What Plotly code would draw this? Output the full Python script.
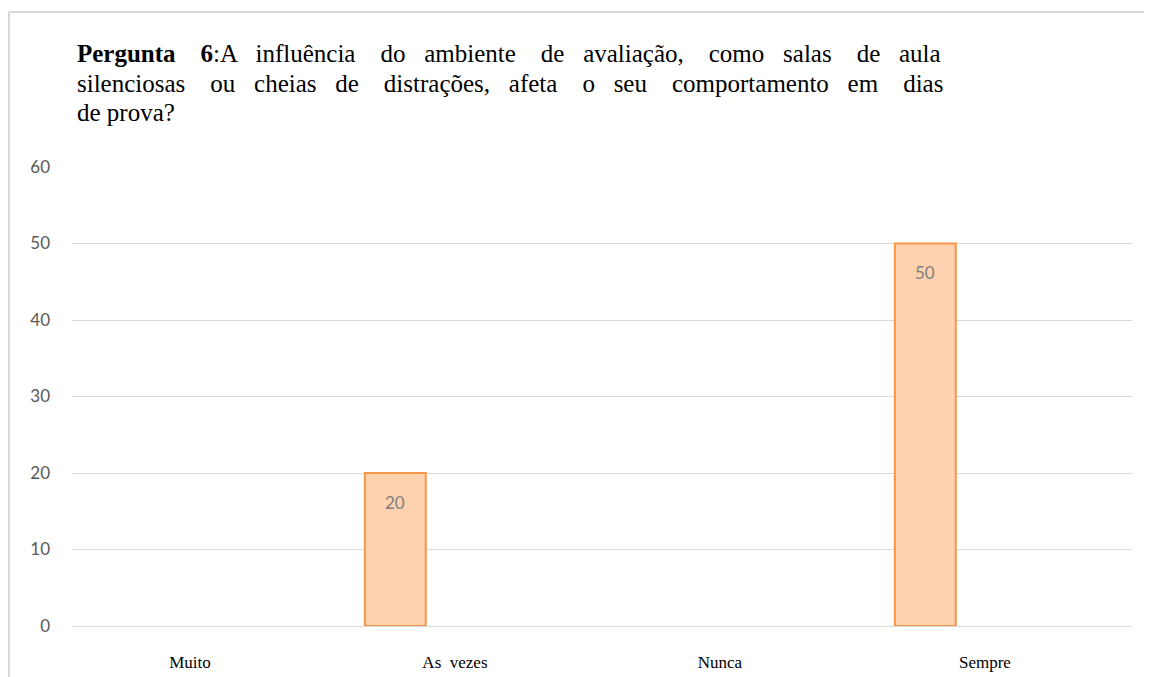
import plotly.graph_objects as go

# Data
categories = ["Muito", "As  vezes", "Nunca", "Sempre"]
values = [None, 20, None, 50]
y_ticks = [0, 10, 20, 30, 40, 50, 60]

title_lines = [
    "<b>Pergunta 6</b>:A influência do ambiente de avaliação, como salas de aula",
    "silenciosas ou cheias de distrações, afeta o seu comportamento em dias",
    "de prova?",
]
# extra non-breaking spaces per word gap, to imitate the justified paragraph
title_extra = [[3, 2, 3, 2, 3, 2, 3, 2, 3, 2, 2], [3, 2, 2, 3, 2, 3, 2, 3, 2, 3], []]

SERIF = "Liberation Serif"
SANS = "Lato"

BAR_WIDTH = 0.23
BAR_OFFSET = -0.34


def justify(line, extra):
    words = line.split(" ")
    out = words[0]
    for i, w in enumerate(words[1:]):
        n = extra[i] if i < len(extra) else 0
        out += " " + "\u00a0" * n + w
    return out


fig = go.Figure()

# Bars (Excel style: light orange fill, darker orange outline)
fig.add_trace(go.Bar(
    x=categories,
    y=values,
    marker=dict(color="#FED2AE", line=dict(color="#F79646", width=2)),
    width=BAR_WIDTH,
    offset=BAR_OFFSET,
    hoverinfo="x+y",
))

# the browser page adds an 8px body margin, so the figure is 8px smaller
fig.update_layout(
    width=1144,
    height=669,
    margin=dict(l=64, r=20, t=159, b=51),
    paper_bgcolor="white",
    plot_bgcolor="white",
    showlegend=False,
    font=dict(family=SERIF, color="black"),
    xaxis=dict(
        type="category",
        range=[-0.445, 3.555],
        showgrid=False,
        showline=False,
        ticks="",
        tickfont=dict(family=SERIF, size=17, color="black"),
        ticklabelstandoff=24,
        automargin=False,
    ),
    yaxis=dict(
        range=[0, 60],
        tickvals=y_ticks,
        showgrid=True,
        gridcolor="#D9D9D9",
        gridwidth=1,
        zeroline=True,
        zerolinecolor="#D9D9D9",
        zerolinewidth=1,
        showline=False,
        ticks="",
        tickfont=dict(family=SANS, size=17, color="#595959"),
        ticklabelstandoff=21,
        automargin=False,
    ),
)

# Data labels, inside the top of each bar (shifted onto the bar centre)
plot_w = 1144 - 64 - 20
cat_px = plot_w / (3.555 + 0.445)
for cat, val in zip(categories, values):
    if val is None:
        continue
    fig.add_annotation(
        x=cat, y=val, text=str(val),
        showarrow=False,
        yanchor="middle",
        xshift=(BAR_OFFSET + BAR_WIDTH / 2) * cat_px,
        yshift=-29,
        font=dict(family=SANS, size=17, color="#7F7F7F"),
    )

# Title, one annotation per line
title_y = [1.2462, 1.1830, 1.1198]
for line, extra, ty in zip(title_lines, title_extra, title_y):
    fig.add_annotation(
        text=justify(line, extra),
        xref="paper", yref="paper",
        x=0.0028, y=ty,
        xanchor="left", yanchor="middle",
        showarrow=False,
        font=dict(family=SERIF, size=25, color="black"),
    )

# Chart area border (only top and left are visible in the crop)
fig.add_shape(type="line", xref="paper", yref="paper",
              x0=-0.0594, x1=1.03, y0=1.3377, y1=1.3377,
              line=dict(color="#D9D9D9", width=2))
fig.add_shape(type="line", xref="paper", yref="paper",
              x0=-0.0594, x1=-0.0594, y0=1.3377, y1=-0.12,
              line=dict(color="#D9D9D9", width=2))

fig.write_html("out.html")
